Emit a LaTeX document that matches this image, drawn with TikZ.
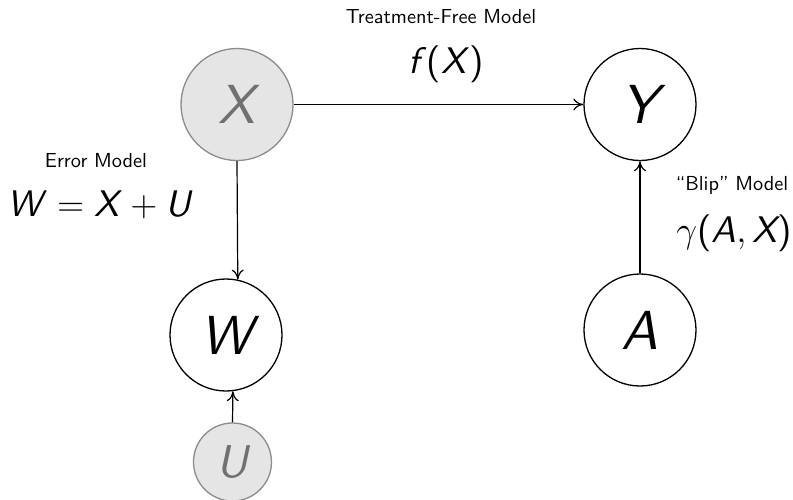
\documentclass[tikz,border=0pt]{standalone}
\usepackage{fix-cm}
\usepackage{fontspec}
% sans family fixed to the 10pt design size at every scale
\setsansfont{lmsans10}[Extension=.otf, UprightFont=*-regular,
  ItalicFont=*-oblique, BoldFont=*-bold, BoldItalicFont=*-boldoblique]
\usetikzlibrary{arrows.meta}

% sans-serif slanted variable names, with italic correction
\newcommand\vsf[1]{\textsf{\itshape #1\/}}

\definecolor{latentfill}{HTML}{E5E5E5}
\definecolor{latentedge}{HTML}{8C8C8C}
\definecolor{latenttext}{HTML}{707070}

\tikzset{
  var/.style={circle, draw=black, line width=1.3pt, minimum size=112pt,
    inner sep=0pt, font=\sffamily\itshape\fontsize{55}{60}\selectfont},
  latent/.style={var, fill=latentfill, draw=latentedge, text=latenttext},
  lbl/.style={inner sep=0pt, anchor=base, font=\sffamily\fontsize{20.3}{24}\selectfont},
  eqn/.style={inner sep=0pt, anchor=base, font=\sffamily\fontsize{37}{40}\selectfont},
  link/.style={line width=1.2pt, -{To[length=10pt,width=12pt]}},
}

\begin{document}
\begin{tikzpicture}[x=1pt,y=-1pt]
  \useasboundingbox (0,0) rectangle (793,499);

  % variables
  \node[latent] (X) at (237,104.5) {X};
  \node[var]    (Y) at (640,104.5) {Y};
  \node[var]    (W) at (226,335) {W};
  \node[var]    (A) at (640,330) {A};
  \node[latent, minimum size=78pt, font=\sffamily\itshape\fontsize{46}{50}\selectfont]
                (U) at (232.5,462) {U};

  % model labels
  \node[lbl] (tfm) at (441,23) {Treatment-Free Model};
  \node[eqn] (fx)  at (446,73) {\textsf{\itshape f}\textsf{(}\textsf{\itshape X}\textsf{)}};
  \node[lbl] (em)  at (96,167) {Error Model};
  \node[eqn] (wxu) at (100,216) {$\vsf{W} = \vsf{X} + \vsf{U}$};
  \node[lbl] (bm)  at (732,190) {“Blip”\ Model};
  \node[eqn] (gm)  at (734,242) {$\gamma\textsf{(}\textsf{\itshape A},\textsf{\itshape X}\textsf{)}$};

  % connectors
  \draw[link] (X) -- (Y);
  \draw[link] (X.south) -- (W.78.7);
  \draw[link] (U.north) -- (W.-83.3);
  \draw[link] (A) -- (Y);
\end{tikzpicture}
\end{document}
